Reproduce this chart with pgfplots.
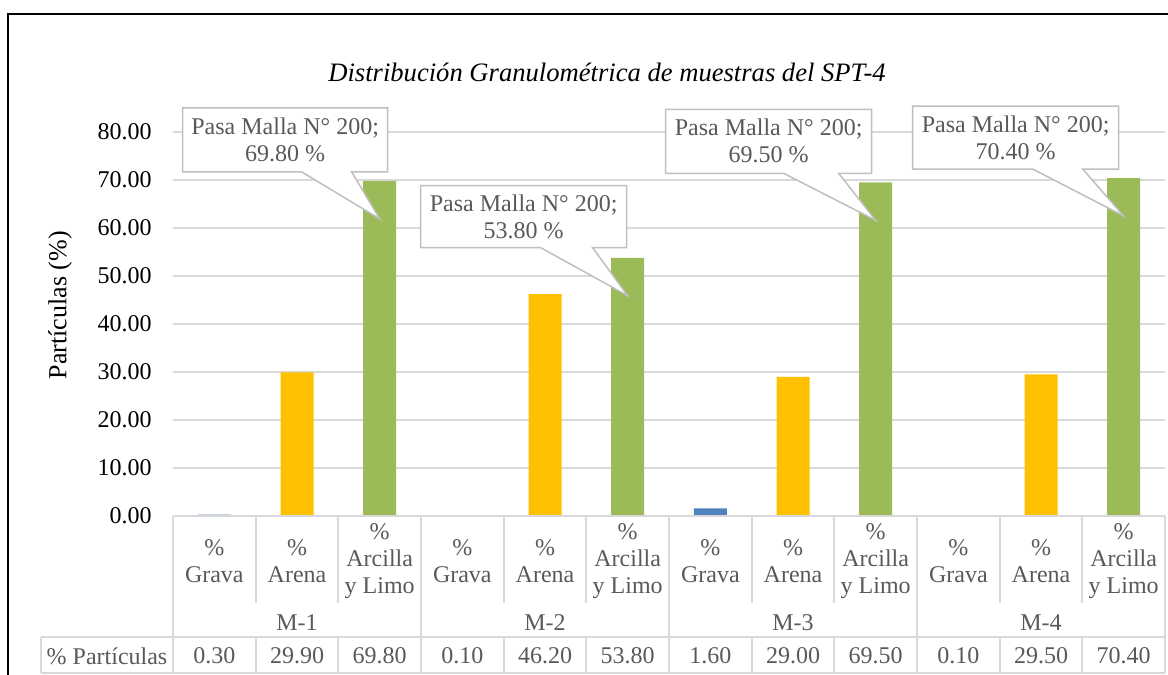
\documentclass[border=0pt]{standalone}
\usepackage{fontspec}
\setmainfont{Liberation Serif}
\usepackage{pgfplots}
\pgfplotsset{compat=1.18}
\definecolor{grava}{HTML}{4F81BD}
\definecolor{arena}{HTML}{FFC000}
\definecolor{arcilla}{HTML}{9BBB59}
\definecolor{gridc}{HTML}{D9D9D9}
\definecolor{txt}{HTML}{595959}
\definecolor{callb}{HTML}{BFBFBF}
\newcommand{\fs}{\fontsize{12}{13.5}\selectfont}
% callout: coord, left, right, bottom, top, pointer base left, pointer base right, text
\newcommand{\callout}[8]{%
  \begin{scope}[shift={(#1)}, x=0.5pt, y=0.5pt]
    \filldraw[fill=white, draw=callb, line width=0.75pt]
      (0,0) -- (#7,#4) -- (#3,#4) -- (#3,#5) -- (#2,#5) -- (#2,#4) -- (#6,#4) -- cycle;
    \path (#2,#4) -- (#3,#5) node[midway, text=txt, align=center, font=\fs] {Pasa Malla N° 200;\\#8 \%};
  \end{scope}}

\begin{document}
\begin{tikzpicture}
\begin{axis}[
  at={(86.5pt,79.5pt)}, anchor=south west,
  scale only axis, width=496pt, height=192pt,
  xmin=-0.5, xmax=11.5, ymin=0, ymax=80,
  clip=false,
  axis line style={draw=none},
  major tick length=0pt,
  ytick={0,10,...,80},
  ymajorgrids,
  grid style={gridc, line width=1pt},
  yticklabel style={/pgf/number format/fixed, /pgf/number format/fixed zerofill,
    /pgf/number format/precision=2, /pgf/number format/assume math mode=true,
    font=\fs, inner sep=0pt, xshift=-10.5pt},
  xtick={0,...,11},
  xticklabels={{\%\\Grava},{\%\\Arena},{\%\\Arcilla\\y Limo},
               {\%\\Grava},{\%\\Arena},{\%\\Arcilla\\y Limo},
               {\%\\Grava},{\%\\Arena},{\%\\Arcilla\\y Limo},
               {\%\\Grava},{\%\\Arena},{\%\\Arcilla\\y Limo}},
  xticklabel style={font=\fs, text=txt, align=center, anchor=center, yshift=-22.5pt},
  ylabel={Partículas (\%)},
  every axis y label/.style={at={(axis description cs:-0.1139,0.549)}, rotate=90, anchor=center, font=\fontsize{13}{15}\selectfont},
  title={Distribución Granulométrica de muestras del SPT-4},
  every axis title/.style={at={(axis description cs:0.4375,1.154)}, anchor=center, font=\fontsize{13.3}{15}\selectfont\itshape},
  ybar, bar width=16.5pt,
]
\addplot[fill=grava, draw=none, bar shift=0pt] coordinates {(0,0.30) (3,0.10) (6,1.60) (9,0.10)};
\addplot[fill=arena, draw=none, bar shift=0pt] coordinates {(1,29.90) (4,46.20) (7,29.00) (10,29.50)};
\addplot[fill=arcilla, draw=none, bar shift=0pt] coordinates {(2,69.80) (5,53.80) (8,69.50) (11,70.40)};
\coordinate (c1) at (axis cs:2,61.9);
\coordinate (c2) at (axis cs:5,45.9);
\coordinate (c3) at (axis cs:8,61.6);
\coordinate (c4) at (axis cs:11,62.5);
\end{axis}

\callout{c1}{-197}{8}{47}{111}{-78}{-28}{69.80}
\callout{c2}{-207}{-1}{48}{110}{-87}{-35}{53.80}
\callout{c3}{-210}{-4}{47}{111}{-92}{-37}{69.50}
\callout{c4}{-211}{-5}{47}{110}{-91}{-41}{70.40}

\begin{scope}[x=0.5pt, y=0.5pt]
  % data table
  \begin{scope}[draw=gridc, line width=1pt]
    \draw (173,159) -- (1165,159);
    \draw (41,38) -- (1165,38);
    \draw (41,2) -- (1165,2);
    \draw (41,2) -- (41,38);
    \foreach \k in {1,2,4,5,7,8,10,11} {
      \draw ({173+82.667*\k},159) -- ({173+82.667*\k},72);
      \draw ({173+82.667*\k},38) -- ({173+82.667*\k},2);
    }
    \foreach \k in {0,3,6,9,12}
      \draw ({173+82.667*\k},159) -- ({173+82.667*\k},2);
  \end{scope}
  \foreach \g [count=\i from 0] in {M-1,M-2,M-3,M-4}
    \node[text=txt, font=\fs] at ({173+82.667*(3*\i+1.5)},52) {\g};
  \foreach \v [count=\i from 0] in {0.30,29.90,69.80,0.10,46.20,53.80,1.60,29.00,69.50,0.10,29.50,70.40}
    \node[text=txt, font=\fs] at ({173+82.667*(\i+0.5)},19) {\v};
  \node[text=txt, font=\fs] at (107,19) {\% Partículas};
  % outer frame
  \draw[line width=1pt, black] (8,-5) -- (8,661) -- (1180,661);
  \pgfresetboundingbox
  \path[use as bounding box] (0,0) rectangle (1168,675);
\end{scope}
\end{tikzpicture}
\end{document}
